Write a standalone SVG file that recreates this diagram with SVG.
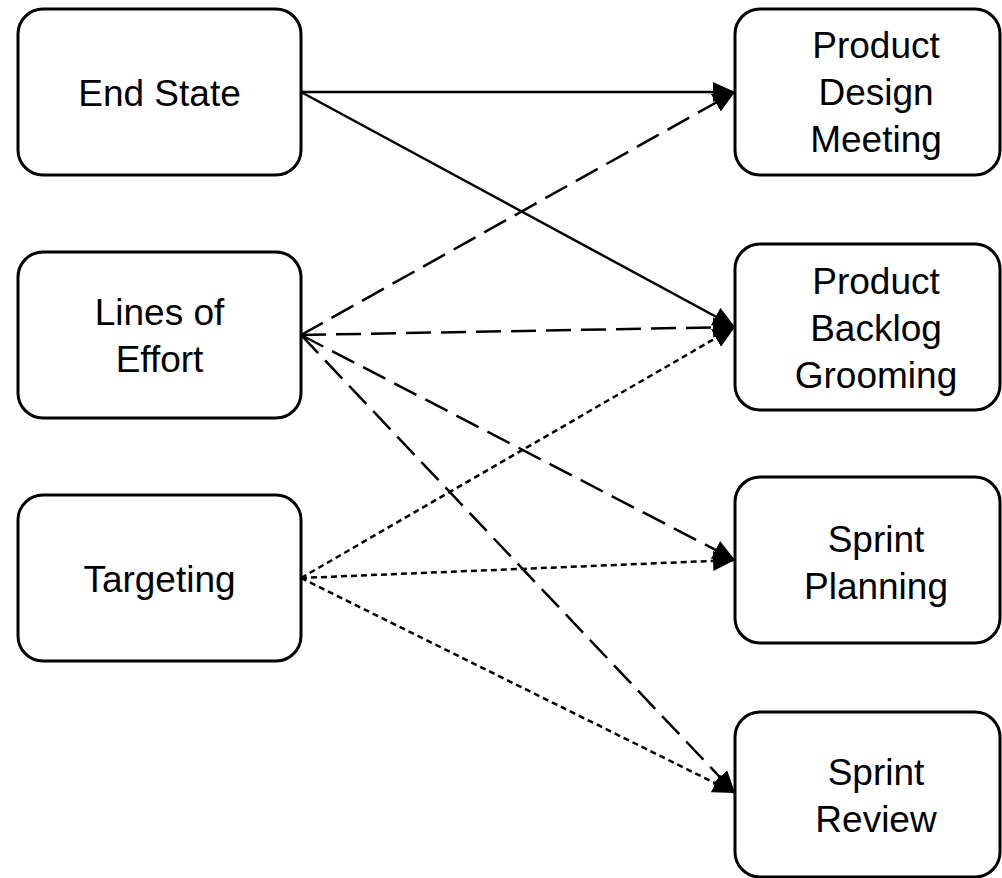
<svg xmlns="http://www.w3.org/2000/svg" width="1002" height="878" viewBox="0 0 1002 878">
  <style>
    .box { fill: #fff; stroke: #000; stroke-width: 3; }
    .lbl { font-family: "Liberation Sans", Arial, sans-serif; font-size: 37px; fill: #000; text-anchor: middle; }
    .conn { fill: none; stroke: #000; stroke-width: 2.5; marker-end: url(#arrow); }
    .dash { stroke-dasharray: 25 10; }
    .dot { stroke-dasharray: 6 4; }
  </style>
  <defs>
    <marker id="arrow" markerUnits="userSpaceOnUse" markerWidth="24" markerHeight="22" refX="22" refY="10" orient="auto">
      <path d="M0,0 L22,10 L0,20 z" fill="#000"/>
    </marker>
  </defs>
  <rect width="1002" height="878" fill="#fff"/>

  <g id="connectors">
    <line class="conn" x1="301" y1="92" x2="735" y2="92"/>
    <line class="conn" x1="301" y1="92" x2="735" y2="327"/>
    <line class="conn dash" x1="301" y1="335" x2="735" y2="92"/>
    <line class="conn dash" x1="301" y1="335" x2="735" y2="327"/>
    <line class="conn dash" x1="301" y1="335" x2="735" y2="560"/>
    <line class="conn dash" x1="301" y1="335" x2="735" y2="793"/>
    <line class="conn dot" x1="301" y1="578" x2="735" y2="327"/>
    <line class="conn dot" x1="301" y1="578" x2="735" y2="560"/>
    <line class="conn dot" x1="301" y1="578" x2="735" y2="793"/>
  </g>

  <g id="end-state">
    <rect class="box" x="18" y="9" width="283" height="166" rx="25"/>
    <text class="lbl" x="159.5" y="105.5">End State</text>
  </g>
  <g id="lines-of-effort">
    <rect class="box" x="18" y="252" width="283" height="166" rx="25"/>
    <text class="lbl" x="159.5" y="325">Lines of</text>
    <text class="lbl" x="159.5" y="372">Effort</text>
  </g>
  <g id="targeting">
    <rect class="box" x="18" y="495" width="283" height="166" rx="25"/>
    <text class="lbl" x="159.5" y="592">Targeting</text>
  </g>

  <g id="product-design-meeting">
    <rect class="box" x="735" y="9" width="265" height="166" rx="25"/>
    <text class="lbl" x="876" y="58">Product</text>
    <text class="lbl" x="876" y="105">Design</text>
    <text class="lbl" x="876" y="152">Meeting</text>
  </g>
  <g id="product-backlog-grooming">
    <rect class="box" x="735" y="244" width="265" height="166" rx="25"/>
    <text class="lbl" x="876" y="293.5">Product</text>
    <text class="lbl" x="876" y="340.5">Backlog</text>
    <text class="lbl" x="876" y="387.5">Grooming</text>
  </g>
  <g id="sprint-planning">
    <rect class="box" x="735" y="477" width="265" height="166" rx="25"/>
    <text class="lbl" x="876" y="551.5">Sprint</text>
    <text class="lbl" x="876" y="598.5">Planning</text>
  </g>
  <g id="sprint-review">
    <rect class="box" x="735" y="712" width="265" height="165" rx="25"/>
    <text class="lbl" x="876" y="785">Sprint</text>
    <text class="lbl" x="876" y="832">Review</text>
  </g>
</svg>
